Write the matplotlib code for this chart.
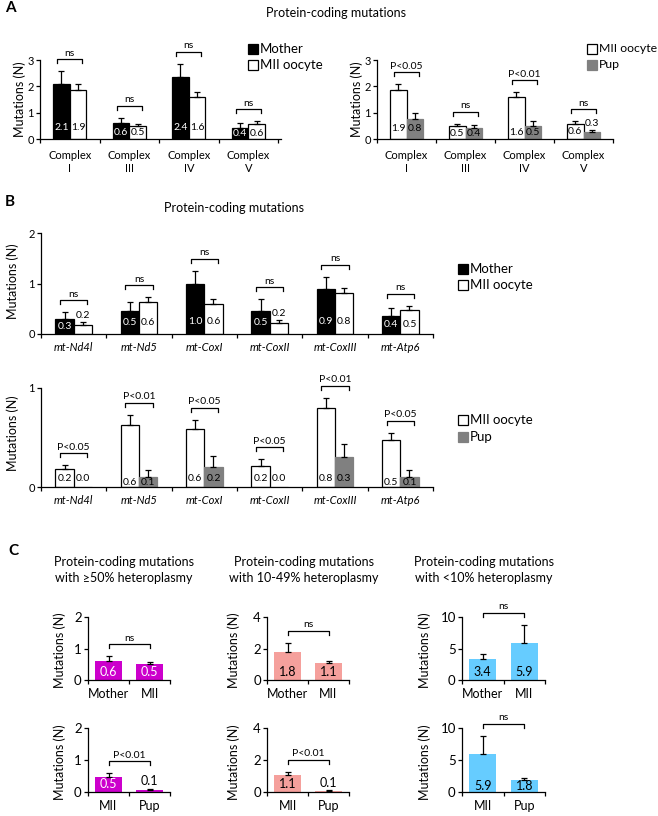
import numpy as np
import matplotlib
matplotlib.use("Agg")
import matplotlib.pyplot as plt
from matplotlib.patches import Rectangle

plt.rcParams['font.family'] = ['Lato', 'DejaVu Sans']

W, H = 658, 816
fig = plt.figure(figsize=(W / 100, H / 100), dpi=100)

# ---- data -------------------------------------------------------------
complexes = ['Complex\nI', 'Complex\nIII', 'Complex\nIV', 'Complex\nV']
a_mother = [2.1, 0.6, 2.36, 0.4]
a_mother_err = [0.48, 0.2, 0.49, 0.2]
a_mii = [1.86, 0.5, 1.6, 0.58]
a_mii_err = [0.22, 0.07, 0.17, 0.1]
a_sig_left = ['ns', 'ns', 'ns', 'ns']

a2_mii = [1.86, 0.5, 1.6, 0.58]
a2_mii_err = [0.22, 0.07, 0.17, 0.09]
a2_pup = [0.76, 0.4, 0.5, 0.26]
a2_pup_err = [0.24, 0.13, 0.18, 0.09]
a_sig_right = ['P<0.05', 'ns', 'P<0.01', 'ns']

genes = ['mt-Nd4l', 'mt-Nd5', 'mt-CoxI', 'mt-CoxII', 'mt-CoxIII', 'mt-Atp6']
b_mother = [0.3, 0.46, 1.0, 0.46, 0.9, 0.36]
b_mother_err = [0.13, 0.17, 0.25, 0.23, 0.23, 0.15]
b_mii = [0.18, 0.63, 0.59, 0.22, 0.81, 0.48]
b_mii_err = [0.06, 0.1, 0.1, 0.06, 0.1, 0.08]
b_sig_top = ['ns'] * 6

b2_mii = [0.18, 0.63, 0.59, 0.21, 0.8, 0.47]
b2_mii_err = [0.04, 0.1, 0.09, 0.07, 0.1, 0.08]
b2_pup = [0.0, 0.1, 0.2, 0.0, 0.3, 0.1]
b2_pup_err = [0.0, 0.07, 0.11, 0.0, 0.13, 0.07]
b_sig_bottom = ['P<0.05', 'P<0.01', 'P<0.05', 'P<0.05', 'P<0.01', 'P<0.05']

c_titles = ['Protein-coding mutations\nwith \u226550% heteroplasmy',
            'Protein-coding mutations\nwith 10-49% heteroplasmy',
            'Protein-coding mutations\nwith <10% heteroplasmy']
c_top_cats = ['Mother', 'MII']
c_bot_cats = ['MII', 'Pup']
c_top_vals = [[0.6, 0.5], [1.78, 1.06], [3.4, 5.9]]
c_top_err = [[0.16, 0.07], [0.57, 0.14], [0.8, 2.9]]
c_top_sig = ['ns', 'ns', 'ns']
c_bot_vals = [[0.48, 0.06], [1.08, 0.06], [5.9, 1.8]]
c_bot_err = [[0.1, 0.04], [0.17, 0.06], [2.9, 0.4]]
c_bot_sig = ['P<0.01', 'P<0.01', 'ns']
c_ymax = [2, 4, 10]
c_ticks = [[0, 1, 2], [0, 2, 4], [0, 5, 10]]

# ---- styles -----------------------------------------------------------
BLACK, WHITE, GRAY = '#000000', '#ffffff', '#808080'
c_colors = ['#cc00cc', '#f5a09c', '#66ccff']
c_text = [WHITE, 'k', 'k']


def px_axes(x0, top, x1, bottom):
    return fig.add_axes([x0 / W, 1 - bottom / H, (x1 - x0) / W, (bottom - top) / H])


def px_per_unit(ax):
    y0, y1 = ax.get_ylim()
    return ax.get_position().height * H / (y1 - y0)


def style_axes(ax, bounds, centers, labels, fs, italic=False, pad=3, yfs=None):
    for s in ['top', 'right']:
        ax.spines[s].set_visible(False)
    for s in ['left', 'bottom']:
        ax.spines[s].set_linewidth(0.9)
    ax.set_xticks(bounds)
    ax.set_xticklabels([])
    ax.set_xticks(centers, minor=True)
    ax.set_xticklabels(labels, minor=True, fontsize=fs,
                       fontstyle='italic' if italic else 'normal')
    ax.tick_params(axis='x', which='major', direction='out', length=3, width=0.9)
    ax.tick_params(axis='x', which='minor', length=0, pad=pad)
    ax.tick_params(axis='y', direction='out', length=3, width=0.9,
                   labelsize=yfs or fs, pad=1.5)


def bracket(ax, x0, x1, top, text, fs, gap_px=12, drop_px=4):
    ppu = px_per_unit(ax)
    y = top + gap_px / ppu
    d = drop_px / ppu
    ax.plot([x0, x0, x1, x1], [y - d, y, y, y - d], color='k', lw=0.9, clip_on=False)
    ax.text((x0 + x1) / 2, y + 1.5 / ppu, text, ha='center', va='bottom',
            fontsize=fs, clip_on=False)


def value_labels(ax, xs, hs, errs, colors, cap, thr, fs):
    inside = [h for h in hs if h >= thr and h > 0]
    yc = min(cap, min(inside) / 2) if inside else cap
    for x, h, e, c in zip(xs, hs, errs, colors):
        txt = f"{h:.1f}"
        if h < thr:
            ax.annotate(txt, (x, h + e), xytext=(0, 1), textcoords='offset points',
                        ha='center', va='bottom', fontsize=fs, color='k')
        else:
            ax.text(x, yc, txt, ha='center', va='center', fontsize=fs, color=c)


def pair_panel(ax, s1, e1, s2, e2, c1, c2, t1, t2, sig, cap, thr, fs_val, fs_sig):
    n = len(s1)
    centers = np.arange(n) + 0.5
    w = 0.28
    edge2 = 'k' if c2 == WHITE else c2
    ax.bar(centers - w / 2, s1, w, color=c1, edgecolor='k', lw=0.9, zorder=2)
    ax.bar(centers + w / 2, s2, w, color=c2, edgecolor=edge2, lw=0.9, zorder=2)
    for xs, s, e in [(centers - w / 2, s1, e1), (centers + w / 2, s2, e2)]:
        for x, h, err in zip(xs, s, e):
            if err > 0:
                ax.errorbar(x, h, yerr=[[0], [err]], fmt='none', ecolor='k',
                            elinewidth=0.9, capsize=2.5, capthick=0.9, zorder=3)
    for i in range(n):
        value_labels(ax, [centers[i] - w / 2, centers[i] + w / 2], [s1[i], s2[i]],
                     [e1[i], e2[i]], [t1, t2], cap, thr, fs_val)
        top = max(s1[i] + e1[i], s2[i] + e2[i])
        bracket(ax, centers[i] - 0.21, centers[i] + 0.21, top, sig[i], fs_sig)
    return centers


def legend_item(x, y, color, label, fs=9.5):
    edge = GRAY if color == GRAY else 'k'
    fig.add_artist(Rectangle((x / W, 1 - (y + 5) / H), 10 / W, 10 / H,
                             transform=fig.transFigure, facecolor=color,
                             edgecolor=edge, lw=0.9))
    fig.text((x + 12) / W, 1 - y / H, label, ha='left', va='center', fontsize=fs)


def ylabel(x, y, fs=9):
    fig.text(x / W, 1 - y / H, 'Mutations (N)', rotation=90, ha='center',
             va='center', fontsize=fs)


# ---- panel A ----------------------------------------------------------
fig.text(5 / W, 1 - 8 / H, 'A', fontsize=11, fontweight='bold', va='center', ha='left')
fig.text(336 / W, 1 - 13 / H, 'Protein-coding mutations', fontsize=9, ha='center', va='center')

ax = px_axes(40, 60, 281, 139)
ax.set_ylim(0, 3)
ax.set_xlim(0, 4.05)
ax.set_yticks([0, 1, 2, 3])
c = pair_panel(ax, a_mother, a_mother_err, a_mii, a_mii_err, BLACK, WHITE, WHITE, 'k',
               a_sig_left, 0.42, 0.0, 7.5, 7.5)
style_axes(ax, np.arange(5), c, complexes, 8, pad=8, yfs=8)
ylabel(20, 99)
legend_item(248, 49, BLACK, 'Mother')
legend_item(248, 65, WHITE, 'MII oocyte')

ax = px_axes(377, 60, 613, 139)
ax.set_ylim(0, 3)
ax.set_xlim(0, 4)
ax.set_yticks([0, 1, 2, 3])
c = pair_panel(ax, a2_mii, a2_mii_err, a2_pup, a2_pup_err, WHITE, GRAY, 'k', 'k',
               a_sig_right, 0.42, 0.3, 7.5, 7.5)
style_axes(ax, np.arange(5), c, complexes, 8, pad=8, yfs=8)
ylabel(357, 99)
legend_item(587, 49, WHITE, 'MII oocyte', fs=8.8)
legend_item(587, 65, GRAY, 'Pup', fs=8.8)

# ---- panel B ----------------------------------------------------------
fig.text(5 / W, 1 - 202 / H, 'B', fontsize=11, fontweight='bold', va='center', ha='left')
fig.text(234 / W, 1 - 208 / H, 'Protein-coding mutations', fontsize=9, ha='center', va='center')

ax = px_axes(41, 233, 433, 334)
ax.set_ylim(0, 2)
ax.set_xlim(0, 6)
ax.set_yticks([0, 1, 2])
c = pair_panel(ax, b_mother, b_mother_err, b_mii, b_mii_err, BLACK, WHITE, WHITE, 'k',
               b_sig_top, 0.24, 0.25, 7.5, 7.5)
style_axes(ax, np.arange(7), c, genes, 8, italic=True, pad=6, yfs=8)
ylabel(13, 281)
legend_item(458, 269, BLACK, 'Mother')
legend_item(458, 285, WHITE, 'MII oocyte')

ax = px_axes(41, 388, 433, 487)
ax.set_ylim(0, 1)
ax.set_xlim(0, 6)
ax.set_yticks([0, 1])
c = pair_panel(ax, b2_mii, b2_mii_err, b2_pup, b2_pup_err, WHITE, GRAY, 'k', 'k',
               b_sig_bottom, 0.09, 0.0, 7.5, 7.5)
style_axes(ax, np.arange(7), c, genes, 8, italic=True, pad=6, yfs=8)
ylabel(13, 433)
legend_item(458, 420, WHITE, 'MII oocyte')
legend_item(458, 437, GRAY, 'Pup')

# ---- panel C ----------------------------------------------------------
fig.text(8 / W, 1 - 551 / H, 'C', fontsize=11, fontweight='bold', va='center', ha='left')

c_x = [(88, 170), (267, 349), (462, 545)]
c_title_x = [124, 304, 484]
c_ylab_x = [60, 234, 425]
rows = [(617, 680, c_top_cats, c_top_vals, c_top_err, c_top_sig, 650),
        (728, 792, c_bot_cats, c_bot_vals, c_bot_err, c_bot_sig, 762)]

for j in range(3):
    fig.text(c_title_x[j] / W, 1 - 570 / H, c_titles[j], fontsize=9,
             ha='center', va='center', linespacing=1.3)
    for top, bottom, cats, vals, errs, sigs, ly in rows:
        ax = px_axes(c_x[j][0], top, c_x[j][1], bottom)
        ax.set_ylim(0, c_ymax[j])
        ax.set_xlim(-0.5, 1.5)
        ax.set_yticks(c_ticks[j])
        xs = np.arange(2)
        v, e = vals[j], errs[j]
        ax.bar(xs, v, 0.66, color=c_colors[j], zorder=2)
        for x, h, err in zip(xs, v, e):
            ax.errorbar(x, h, yerr=[[0], [err]], fmt='none', ecolor='k',
                        elinewidth=0.9, capsize=2.5, capthick=0.9, zorder=3)
        value_labels(ax, xs, v, e, [c_text[j]] * 2, 0.13 * c_ymax[j],
                     0.1 * c_ymax[j], 9)
        bracket(ax, 0, 1, max(a + b for a, b in zip(v, e)), sigs[j], 7.5)
        style_axes(ax, [-0.5, 0.5, 1.5], xs, cats, 9, pad=6, yfs=9.5)
        ylabel(c_ylab_x[j], ly, 9)

fig.savefig('out.png', dpi=100)
